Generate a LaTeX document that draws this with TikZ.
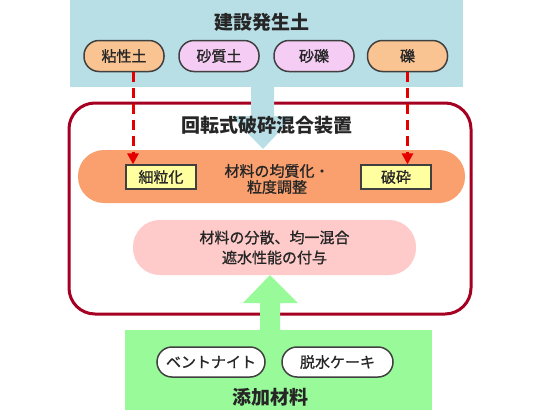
\documentclass[tikz,border=0pt]{standalone}
\usepackage{fontspec}
\setmainfont{Noto Sans CJK JP}
\newfontfamily\jpmed[FakeBold=1]{Noto Sans CJK JP}
\usetikzlibrary{arrows.meta}
\definecolor{soilblue}{RGB}{184,222,230}
\definecolor{clayorange}{RGB}{250,196,146}
\definecolor{sandpink}{RGB}{244,204,244}
\definecolor{boxred}{RGB}{165,0,33}
\definecolor{barorange}{RGB}{250,160,110}
\definecolor{tagyellow}{RGB}{255,255,160}
\definecolor{mixpink}{RGB}{255,202,202}
\definecolor{addgreen}{RGB}{153,250,153}
\begin{document}
\begin{tikzpicture}[
  x=1pt,y=-1pt,
  every node/.style={font=\jpmed\fontsize{15}{18}\selectfont,text=black!85,inner sep=0pt},
  pill/.style={draw=black!75,line width=1.5pt,rounded corners=15pt,minimum width=80pt,minimum height=31pt},
  tag/.style={draw=black!75,fill=tagyellow,line width=1.2pt,minimum width=70pt,minimum height=24pt},
  title/.style={font=\fontsize{19}{22}\selectfont\bfseries},
  drop/.style={red!90!black,line width=3pt,dash pattern=on 10pt off 6pt,-{Triangle[width=11pt,length=11pt]}}
]
  \useasboundingbox (0,0) rectangle (540,410);
  % construction soil
  \node[fill=soilblue,minimum width=393pt,minimum height=87pt] (soil) at (266.5,43.5) {};
  \node[title] (soilt) at (262,22) {建設発生土};
  \node[pill,fill=clayorange] (clay) at (124,56) {粘性土};
  \node[pill,fill=sandpink] (sand) at (219,56) {砂質土};
  \node[pill,fill=sandpink] (sgrav) at (314,56) {砂礫};
  \node[pill,fill=clayorange] (gravel) at (407.5,56) {礫};

  % crusher-mixer
  \node[draw=boxred,line width=3pt,rounded corners=26pt,minimum width=402pt,minimum height=211pt] (mixer) at (270,208.5) {};
  \fill[soilblue] (251,86) -- (251,116) -- (231,116) -- (263,149) -- (294,116) -- (274,116) -- (274,86) -- cycle;
  \node[title] (mixert) at (267,125) {回転式破砕混合装置};
  \node[fill=barorange,rounded corners=26pt,minimum width=387pt,minimum height=53pt] (bar) at (271.5,176.5) {};
  \node[tag] (fine) at (161,177) {細粒化};
  \node[tag] (crush) at (396,177) {破砕};
  \node[align=center,font=\jpmed\fontsize{15}{16}\selectfont] (even) at (277,179) {材料の均質化・\\粒度調整};
  \draw[drop] ([xshift=9pt]clay.south) -- ([xshift=9pt]clay.south |- fine.north);
  \draw[drop] (gravel.south) -- (gravel.south |- crush.north);
  \node[fill=mixpink,draw=pink!80,densely dotted,rounded corners=27pt,minimum width=283pt,minimum height=55pt,
    align=center,font=\jpmed\fontsize{15}{20}\selectfont] (mix) at (274.5,247.5) {材料の分散、均一混合\\遮水性能の付与};

  % additives
  \node[fill=addgreen,minimum width=307pt,minimum height=80pt] (add) at (278.5,370) {};
  \fill[addgreen] (260,331) -- (260,303) -- (243,303) -- (270,275) -- (298,303) -- (280,303) -- (280,331) -- cycle;
  \node[pill,fill=white,minimum width=108pt,minimum height=30pt] (bent) at (211,362) {ベントナイト};
  \node[pill,fill=white,minimum width=111pt,minimum height=30pt] (cake) at (337.5,362) {脱水ケーキ};
  \node[title] (addt) at (270,397) {添加材料};
\end{tikzpicture}
\end{document}
